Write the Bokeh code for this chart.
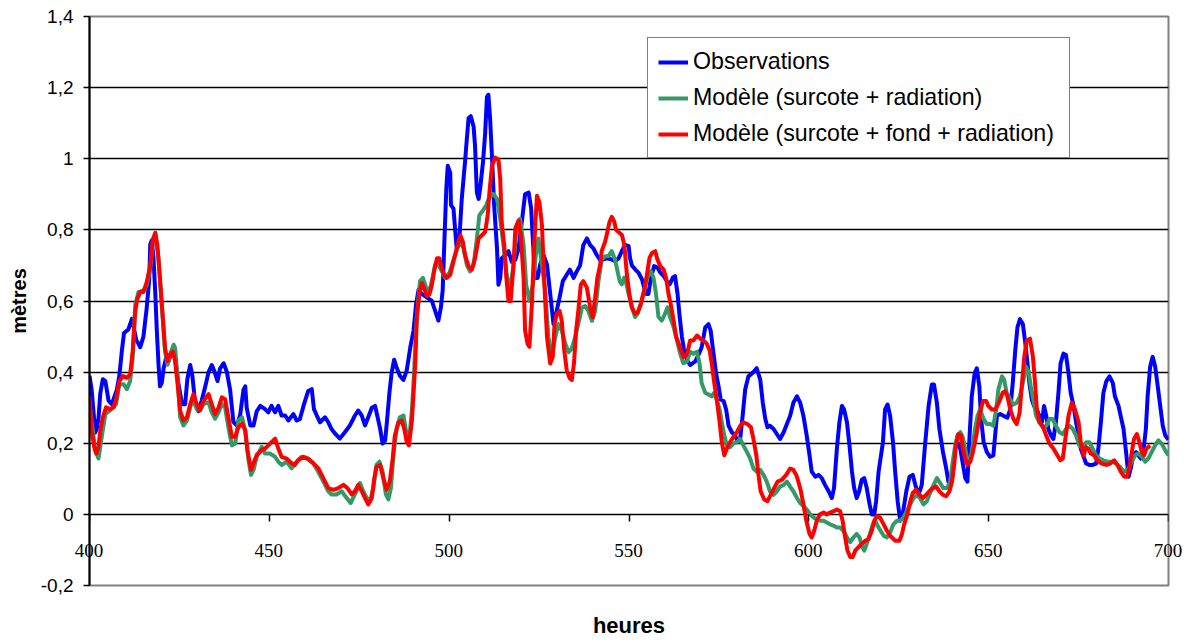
from bokeh.plotting import figure
from bokeh.models import (LinearAxis, FixedTicker, CustomJSTickFormatter, Legend, LegendItem,
                          HTMLLabelSet, ColumnDataSource)
from bokeh.embed import file_html
from bokeh.resources import INLINE

# ---------------- data ----------------
obs_h = [400, 400.6, 401.6, 402, 402.5, 403, 403.7, 404.4, 405.3, 406.2, 407.6, 408.3, 409, 409.6, 410.8, 411.8,
         412.4, 413, 413.6, 414.1, 415, 415.9, 416.6, 416.9, 417.3, 417.8, 418.3, 418.7, 419.2, 419.6, 420.1, 420.6,
         421.3, 422, 422.9, 423.8, 424.7, 425.7, 426.6, 427.2, 428, 428.6, 429.4, 430.3, 431.2, 432.2, 433.1, 434,
         434.8, 435.6, 436.3, 437.3, 438.2, 439.1, 440, 441, 441.9, 442.8, 443.3, 443.7, 444.7, 445.6, 446.5, 447.5,
         448.8, 449.7, 450.6, 451.6, 452.5, 453.4, 454.4, 455.3, 456.7, 457.6, 458.5, 459.5, 460.8, 461.8, 462.4,
         463.2, 464.1, 465.5, 466.4, 467.3, 468.3, 469.6, 471, 472.4, 473.8, 474.7, 475.7, 476.6, 477.5, 478.5,
         479.4, 480, 480.8, 481.5, 482.2, 482.6, 483.4, 484, 484.7, 485.4, 486.3,
         487.3, 488.2, 489.2, 490.1, 490.8, 491.5, 492.4, 493.8, 495.2, 496.1, 497, 497.7, 498.2, 498.7, 499.2,
         499.6, 500.3, 500.5, 501.2, 501.7, 502.1, 502.9, 503.5, 504.4, 504.9, 505.4, 506, 506.8, 507.2, 507.7,
         508.2, 508.6, 509.4, 510, 510.5, 510.9, 511.4, 511.9, 512.5, 513.3, 513.7, 514.2, 514.6, 515.6, 516.5,
         517.4, 518.4, 519.3, 520.2, 521.1, 522.1, 522.8, 523.5, 523.9, 524.6, 525.3, 526.2, 527.2, 528.1, 529,
         529.9, 530.7, 531.6, 532.7, 533.6, 534.6, 535.5, 536.4, 537.3, 538.3, 539.2, 540.1, 541, 541.9,
         542.9, 543.8, 545.2, 546.1, 547.1, 548, 548.9, 549.9, 550.3, 550.8, 551.7, 552.6, 553.6, 554.2, 554.8,
         555.4, 556.1, 557, 557.9, 558.7, 559.6, 560.5, 561.3, 562.2, 562.8, 563.5, 564, 564.7, 565.3, 566.1,
         567, 568.4, 569.3, 570.2, 571.2, 572.1, 572.7, 573.5, 574.2, 574.9, 575.5, 576.3, 577, 577.7, 578.6,
         579.5, 580.3, 580.9, 581.6, 582.3, 583.2, 584.6, 585.5, 586.5, 587.2, 587.9, 588.5, 589.2, 590.2, 591.1,
         592, 593, 593.9, 594.8, 595.7, 596.7, 597.6, 598.5, 599.4, 600.2, 600.8, 601.8, 602.7, 603.6, 604.5,
         605.5, 606.4, 607, 607.8, 608.5, 609.2, 609.8, 610.6, 611.3, 612, 612.6, 613.3, 614, 614.7, 615.4, 616.1,
         616.9, 617.5, 618.2, 618.7, 619.4, 620.6, 621.2, 621.9, 622.6, 623.4, 624, 624.7, 625.4, 626.1, 627.1,
         628, 628.9, 629.6, 630.5, 631.4, 632.3, 633.3, 634.2, 634.8, 635.6, 636.3, 637.3, 638.2, 638.8, 639.5,
         640, 640.7, 641.3, 642.1, 642.8, 643.5, 644.1, 644.7, 645.3, 646.1, 646.7, 647.4, 647.9, 648.6, 649.5,
         650.4, 651.3, 651.8, 652.3, 653.2, 654.1, 655.2, 656, 656.7, 657.4, 658, 658.7, 659.5, 660.1, 660.8,
         661.3, 662, 662.6, 663.4, 664.1, 664.8, 665.4, 666, 666.6, 667.3, 668, 668.7, 669.4, 670, 670.8, 671.5,
         672.2, 672.8, 673.6, 674.3, 675, 675.6, 676.4, 677.1, 678, 678.9, 679.9, 680.5, 681.2, 681.9, 682.7,
         683.6, 684.5, 685.1, 686.1, 686.7, 687.5, 688.2, 688.9, 689.5, 690.2, 691, 691.6, 692.3, 693, 693.7,
         694.2, 694.9, 695.6, 696.3, 696.9, 697.7, 698.4, 699.1, 700]
obs_v = [0.39, 0.35, 0.23, 0.24, 0.27, 0.34, 0.38, 0.375, 0.32, 0.31, 0.35, 0.39, 0.46, 0.51, 0.52, 0.55,
         0.52, 0.49, 0.48, 0.47, 0.5, 0.58, 0.66, 0.76, 0.77, 0.72, 0.62, 0.52, 0.42, 0.36, 0.37, 0.41,
         0.44, 0.43, 0.46, 0.44, 0.37, 0.31, 0.31, 0.38, 0.42, 0.39, 0.31, 0.29, 0.32, 0.36, 0.40, 0.42,
         0.40, 0.375, 0.41, 0.425, 0.40, 0.35, 0.26, 0.25, 0.28, 0.35, 0.36, 0.30, 0.25, 0.25, 0.29, 0.305,
         0.296, 0.287, 0.305, 0.287, 0.305, 0.278, 0.278, 0.264, 0.282, 0.264, 0.268, 0.305, 0.347, 0.352, 0.296,
         0.278, 0.259, 0.273, 0.259, 0.24, 0.227, 0.213, 0.231, 0.25, 0.278, 0.292, 0.278, 0.25, 0.273, 0.30,
         0.305, 0.278, 0.241, 0.199, 0.208, 0.25, 0.343, 0.398, 0.435, 0.412, 0.39,
         0.378, 0.405, 0.47, 0.517, 0.59, 0.632, 0.62, 0.61, 0.6, 0.572, 0.545, 0.582, 0.63, 0.776, 0.915,
         0.98, 0.96, 0.87, 0.86, 0.795, 0.748, 0.785, 0.887, 0.99, 1.054, 1.114, 1.12, 1.09, 1.035, 0.905,
         0.887, 0.915, 0.99, 1.07, 1.174, 1.18, 1.11, 1.007, 0.87, 0.748, 0.646, 0.665, 0.72, 0.73, 0.74,
         0.71, 0.716, 0.748, 0.822, 0.9, 0.905, 0.86, 0.73, 0.665, 0.665, 0.702, 0.73, 0.702, 0.62, 0.535,
         0.572, 0.61, 0.656, 0.674, 0.688, 0.665, 0.684, 0.7, 0.757, 0.776, 0.757, 0.748, 0.73, 0.716,
         0.717, 0.72, 0.717, 0.712, 0.72, 0.74, 0.758, 0.754, 0.72, 0.70, 0.689, 0.68, 0.661, 0.638, 0.62,
         0.62, 0.666, 0.698, 0.694, 0.68, 0.671, 0.656, 0.647, 0.666, 0.67, 0.62, 0.564, 0.5, 0.462, 0.434,
         0.42, 0.43, 0.448, 0.47, 0.526, 0.535, 0.517, 0.452, 0.397, 0.36, 0.323, 0.319, 0.295, 0.249, 0.231,
         0.222, 0.203, 0.212, 0.277, 0.351, 0.388, 0.4, 0.411, 0.378, 0.314, 0.268, 0.245, 0.249, 0.240, 0.226,
         0.212, 0.231, 0.254, 0.277, 0.314, 0.332, 0.314, 0.277, 0.222, 0.166, 0.12, 0.106, 0.111, 0.102, 0.083,
         0.065, 0.046, 0.074, 0.185, 0.259, 0.305, 0.295, 0.259, 0.194, 0.12, 0.074, 0.046, 0.065, 0.097, 0.102, 0.074,
         0.028, 0.0, 0.0, 0.037, 0.12, 0.203, 0.295, 0.309, 0.277, 0.203, 0.12, 0.037, -0.018, 0.0, 0.065,
         0.106, 0.111, 0.083, 0.055, 0.083, 0.194, 0.305, 0.365, 0.365, 0.314, 0.24, 0.175, 0.129, 0.092, 0.083,
         0.111, 0.185, 0.203, 0.185, 0.143, 0.102, 0.092, 0.222, 0.332, 0.397, 0.411, 0.36, 0.268, 0.203, 0.175,
         0.162, 0.166, 0.222, 0.277, 0.282, 0.277, 0.272, 0.295, 0.37, 0.462, 0.526, 0.549, 0.535, 0.489, 0.425,
         0.37, 0.323, 0.305, 0.295, 0.277, 0.259, 0.305, 0.277, 0.24, 0.222, 0.212, 0.259, 0.342, 0.425, 0.452, 0.448,
         0.397, 0.342, 0.305, 0.259, 0.222, 0.185, 0.162, 0.143, 0.139, 0.139, 0.143, 0.185, 0.259, 0.342, 0.374,
         0.388, 0.37, 0.332, 0.305, 0.277, 0.24, 0.175, 0.106, 0.129, 0.166, 0.175, 0.166, 0.157, 0.175, 0.24,
         0.332, 0.415, 0.443, 0.415, 0.369, 0.305, 0.249, 0.222, 0.21]

mod1_h = [400, 401.6, 402.5, 403.4, 404.4, 405.7, 407.4, 408.3, 409.5, 410.4, 411.3, 412, 412.7, 413.6, 415,
          415.9, 416.9, 417.6, 418.3, 419.2, 420.1, 421, 421.7, 422.4, 423.4, 423.8, 424.5, 425.2, 426.1, 427.1,
          428, 428.9, 429.8, 430.8, 431.7, 433.1, 434, 434.9, 435.9, 436.8, 437.7, 438.6, 439.6, 440.5, 441.4,
          442.4, 443.3, 444.2, 444.9, 445.6, 446.5, 447.9,
          448.8, 450.2, 451.6, 452.5, 453.4, 454.8, 456.2, 457.6, 459, 460.4, 462.2, 463.6, 465, 466.4, 467.3,
          468.7, 470.1, 471.5, 472.6, 473.8, 475.2, 476.1, 477.1, 478, 478.9, 479.8, 480.6, 481.5, 482.4, 483.1,
          483.8, 484.5, 485.4, 486.3, 487.3, 488.2, 488.9, 489.6, 490,
          491, 491.9, 492.7, 493.6, 494.5, 495.2, 496.1, 497, 498, 498.9, 500.1, 501.2, 502.3, 503.1, 504, 504.9,
          505.8, 506.8, 507.7, 508.4, 509.4, 510.3, 511.2, 512.3, 513.3, 514.2, 515.1, 516, 516.9, 517.9, 518.8,
          519.7, 520.7, 521.4, 522.3, 523.3, 524.2, 524.8, 525.8, 526.7, 527.6, 528.5, 529.5, 530.4, 531.3, 532.3,
          533.2, 534.1, 535, 535.9, 536.9, 537.8, 538.7, 539.7, 540.6, 541.5,
          542.4, 543.4, 544.3, 545.2, 546.1, 546.8, 547.4, 548, 548.7, 549.4, 550.1, 550.8, 551.7, 552.4, 553.3,
          554.2, 555.1, 556.1, 556.8, 557.5, 558.2, 559.1, 560, 560.7, 561.4, 562.4, 563.3, 564.2, 565.1, 566.1,
          567, 567.9, 568.9, 569.6, 570.2, 571.2, 572.1, 573, 573.7, 574.4, 575.2, 575.8, 576.5, 577.2, 578.1,
          579, 580, 580.9, 581.8, 582.8, 583.7, 584.6, 585.5, 586.5, 587.4, 588.3, 589.2, 590.2, 591.1, 592, 593,
          593.9, 594.8, 595.7, 596.7, 597.6, 598.5, 599.4, 600.4, 601.3, 602.2, 603.1, 604.1, 605, 605.9, 606.9,
          607.8, 608.7, 609.6, 610.6, 611.5, 612.4, 613.3, 614.1, 614.7, 615.4, 616.1, 617, 617.8, 618.4, 619.4,
          620.8, 621.7, 622.6, 623.5, 624.5, 625.4, 626.3, 627.2, 628.2, 629.1, 630, 630.9, 631.9, 632.8, 633.7,
          634.7, 635.6, 636.5, 637.4, 638.4, 639.3, 640, 640.7, 641.3, 642.1, 642.8, 643.5, 644.1, 644.9, 645.6,
          646.2, 646.9, 647.6, 648.6, 649.5, 650.4, 651.3, 652.1, 652.7, 653.7, 654.3,
          655, 656, 656.9, 657.8, 658.7, 659.7, 660.4, 661.1, 661.7, 662.4, 663.2, 664.1, 665, 666, 666.9, 667.8,
          668.7, 669.7, 670.6, 671.5, 672.5, 673.4, 674.3, 675.2, 676.2, 677.1, 678, 678.9, 679.9, 680.8, 681.9,
          683, 684.2, 685.4, 686.5, 687.7, 688.9, 689.8, 690.7, 691.6, 692.6, 693.5, 694.4, 695.3, 696.3, 697.2,
          698.1, 699.1, 700]
mod1_v = [0.31, 0.18, 0.157, 0.218, 0.282, 0.292, 0.31, 0.366, 0.366, 0.352, 0.375, 0.44, 0.588, 0.625, 0.63,
          0.644, 0.69, 0.764, 0.787, 0.718, 0.588, 0.458, 0.421, 0.449, 0.477, 0.468, 0.384, 0.273, 0.25, 0.264,
          0.301, 0.324, 0.296, 0.292, 0.31, 0.315, 0.287, 0.269, 0.287, 0.31, 0.301, 0.245, 0.194, 0.199, 0.264,
          0.273, 0.236, 0.153, 0.111, 0.125, 0.162, 0.19,
          0.171, 0.171, 0.162, 0.148, 0.139, 0.148, 0.13, 0.148, 0.162, 0.157, 0.144, 0.12, 0.093, 0.065, 0.056,
          0.056, 0.065, 0.046, 0.032, 0.056, 0.088, 0.065, 0.046, 0.037, 0.074, 0.139, 0.148, 0.12, 0.056, 0.042,
          0.074, 0.167, 0.241, 0.273, 0.278, 0.222, 0.213, 0.287, 0.352,
          0.554, 0.656, 0.665, 0.637, 0.628, 0.656, 0.702, 0.702, 0.683, 0.665, 0.679, 0.716, 0.748, 0.767, 0.748,
          0.702, 0.683, 0.702, 0.776, 0.841, 0.855, 0.869, 0.892, 0.901, 0.887, 0.831, 0.757, 0.674, 0.628, 0.702,
          0.813, 0.831, 0.757, 0.646, 0.6, 0.646, 0.739, 0.776, 0.702, 0.628, 0.498, 0.443, 0.498, 0.535, 0.517,
          0.48, 0.456, 0.466, 0.498, 0.535, 0.581, 0.586, 0.572, 0.544, 0.572, 0.656,
          0.717, 0.726, 0.726, 0.74, 0.717, 0.684, 0.656, 0.647, 0.666, 0.643, 0.61, 0.582, 0.555, 0.564, 0.592,
          0.629, 0.666, 0.684, 0.666, 0.62, 0.555, 0.545, 0.564, 0.582, 0.555, 0.527, 0.49, 0.453, 0.425, 0.43,
          0.457, 0.452, 0.457, 0.425, 0.369, 0.342, 0.337, 0.332, 0.342, 0.323, 0.295, 0.259, 0.222, 0.194, 0.189,
          0.199, 0.203, 0.212, 0.194, 0.175, 0.157, 0.129, 0.12, 0.125, 0.111, 0.092, 0.065, 0.055, 0.065, 0.078,
          0.083, 0.092, 0.078, 0.065, 0.046, 0.032, 0.023, 0.014, 0.0, -0.009, -0.014, -0.018, -0.018, -0.023,
          -0.028, -0.032, -0.037, -0.037, -0.046, -0.065, -0.078, -0.065, -0.055, -0.065, -0.088, -0.102, -0.083,
          -0.055, -0.028, -0.018, -0.037,
          -0.06, -0.065, -0.051, -0.028, -0.018, -0.018, -0.009, 0.009, 0.028, 0.046, 0.055, 0.046, 0.028, 0.037,
          0.06, 0.083, 0.102, 0.088, 0.074, 0.074, 0.092, 0.148, 0.194, 0.222, 0.231, 0.217, 0.185, 0.148, 0.157,
          0.194, 0.24, 0.277, 0.295, 0.268, 0.254, 0.254, 0.249, 0.295, 0.351, 0.388, 0.379,
          0.342, 0.323, 0.309, 0.314, 0.332, 0.379, 0.415, 0.402, 0.36, 0.323, 0.277, 0.259, 0.245, 0.249, 0.268,
          0.268, 0.249, 0.231, 0.226, 0.24, 0.249, 0.24, 0.222, 0.194, 0.185, 0.203, 0.203, 0.185, 0.166, 0.157,
          0.152, 0.148, 0.148, 0.143, 0.134, 0.12, 0.129, 0.148, 0.166, 0.171, 0.162, 0.148, 0.157, 0.175, 0.194,
          0.208, 0.199, 0.18, 0.166]

mod2_h = [400, 400.6, 401.3, 401.9, 402.5, 403, 403.7, 404.6, 405.7, 406.7, 407.4, 408.3, 409.3, 410.4, 411.3,
          412, 412.7, 413.3, 414.1, 415, 415.9, 416.9, 417.6, 418.3, 418.9, 419.6, 420.4, 421, 421.7, 422.4,
          423.2, 423.8, 424.5, 425.2, 426.1, 427.1, 428, 428.9, 429.8, 430.6, 431.7, 433.1, 434, 434.9, 435.9,
          436.8, 437.7, 438.6, 439.6, 440.5, 441.4, 442.4, 443.3, 443.9, 444.9, 445.6, 446.5, 447.9,
          448.8, 450.2, 451.6, 452.5, 453.4, 454.8, 456.2, 457.1, 458.1, 459.5, 460.8, 462.2, 463.6, 465, 466.4,
          467.8, 469.2, 470.6, 471.7, 472.9, 473.8, 474.7, 475.7, 476.6, 477.5, 478.5, 479.2, 479.8, 480.8, 481.7,
          482.6, 483.5, 484.3, 484.9, 485.9, 486.8, 487.5, 488.2, 488.8, 489.6,
          490.1, 490.6, 491, 491.8, 492.4, 493, 493.8, 494.5, 495.2, 495.8, 496.6, 497.3, 497.9, 498.6, 499.3,
          500.3, 501.2, 502.1, 503.1, 503.8, 504.4, 505.4, 506.3, 507.2, 508.2, 509.1, 510, 510.7, 511.2, 511.9,
          512.8, 513.7, 514.2, 514.6, 515.3, 515.9, 516.5, 517.1, 517.9, 518.4, 519.3, 519.9, 520.7, 521.1, 521.8,
          522.3, 523, 523.6, 524.4, 525.1, 525.8, 526.4, 527.2, 528.1, 528.8, 529.3, 529.9, 530.7, 531.3, 532,
          532.7, 533.5, 534.1, 534.7, 535.3, 535.9, 536.6, 537.3, 538.3, 539.2, 539.9, 540.6, 541.2, 542,
          542.4, 543.4, 544, 544.6, 545.2, 545.9, 546.4, 547.4, 548, 548.7, 549.4, 550.1, 550.8, 551.7, 552.4,
          553.3, 554.2, 555, 555.7, 556.4, 557.3, 557.9, 558.7, 559.6, 560.3, 561, 561.6, 562.4, 563.1, 563.8,
          564.4, 565.1, 565.9, 566.5,
          567, 567.9, 568.9, 569.8, 570.7, 571.6, 572.4, 573, 573.7, 574.4, 575.2, 575.8, 576.5, 577.2, 578.1,
          579, 580, 580.9, 581.8, 582.9, 583.9, 584.6, 585.4, 586, 586.6, 587.6, 588.5, 589.4, 590.4, 591.3,
          592.5, 593.7, 594.8, 595.7, 596.5, 597.1, 597.8, 598.5, 599.3, 600.2, 600.8, 601.5, 602.2, 603.1, 604.1,
          605, 605.9, 606.9, 607.8, 608.7, 609.4, 610.1, 610.7, 611.5, 612.2, 612.9, 613.8, 614.7, 615.7, 616.6,
          617.5, 618.2, 618.9, 619.8,
          620.8, 621.7, 622.6, 624, 625.2, 625.9, 626.5, 627.4, 628.2, 628.9, 629.8, 630.8, 631.7, 632.6, 633.5,
          634.5, 635.4, 636.3, 637.3, 638.2, 639.1, 639.8, 640.4, 640.9, 641.6, 642.3, 642.8, 643.5, 644.1, 644.9,
          645.6, 646.2, 646.9, 647.6, 648.4, 649.3, 649.9, 650.9, 651.8, 652.4, 653.2, 653.9, 654.6, 655.2,
          656, 656.9, 657.8, 658.6, 659.2, 659.9, 660.6, 661.5, 662.3, 662.9, 663.4, 664.1, 665, 666, 666.9, 668,
          669.1, 669.9, 670.6, 671.2, 672.2, 673.1, 674, 675, 675.6, 676.4, 677.1, 677.7, 678.4, 679.3, 680.2,
          681.4, 682.7, 683.8, 684.9, 685.8, 686.7, 687.7, 688.4, 689.1, 689.8, 690.4, 691.2, 691.9, 692.6, 693.2,
          693.9, 694.9]
mod2_v = [0.329, 0.236, 0.19, 0.171, 0.19, 0.236, 0.273, 0.301, 0.296, 0.301, 0.324, 0.375, 0.389, 0.384, 0.394,
          0.458, 0.569, 0.606, 0.625, 0.625, 0.653, 0.699, 0.773, 0.792, 0.755, 0.662, 0.551, 0.468, 0.431, 0.449,
          0.458, 0.431, 0.366, 0.292, 0.264, 0.273, 0.31, 0.338, 0.31, 0.292, 0.319, 0.338, 0.31, 0.282, 0.301,
          0.329, 0.324, 0.273, 0.218, 0.218, 0.245, 0.255, 0.236, 0.181, 0.125, 0.144, 0.167, 0.181,
          0.185, 0.199, 0.213, 0.185, 0.162, 0.157, 0.144, 0.139, 0.153, 0.162, 0.157, 0.144, 0.13, 0.102, 0.074,
          0.069, 0.074, 0.083, 0.074, 0.056, 0.065, 0.083, 0.065, 0.046, 0.028, 0.046, 0.102, 0.134, 0.139, 0.102,
          0.069, 0.093, 0.157, 0.222, 0.259, 0.264, 0.241, 0.204, 0.194, 0.259,
          0.34, 0.43, 0.554, 0.628, 0.65, 0.637, 0.614, 0.618, 0.646, 0.683, 0.72, 0.72, 0.693, 0.674, 0.665,
          0.674, 0.711, 0.748, 0.785, 0.767, 0.73, 0.697, 0.688, 0.72, 0.776, 0.785, 0.794, 0.84, 0.906, 0.98,
          1.003, 0.998, 0.943, 0.822, 0.757, 0.665, 0.6, 0.6, 0.702, 0.804, 0.826, 0.785, 0.665, 0.517, 0.48,
          0.471, 0.591, 0.748, 0.896, 0.878, 0.813, 0.665, 0.498, 0.424, 0.443, 0.535, 0.563, 0.572, 0.545, 0.461,
          0.405, 0.383, 0.378, 0.424, 0.517, 0.572, 0.646, 0.656, 0.637, 0.581, 0.554, 0.61, 0.665, 0.702,
          0.74, 0.768, 0.795, 0.823, 0.837, 0.823, 0.8, 0.791, 0.786, 0.758, 0.675, 0.62, 0.582, 0.564, 0.568,
          0.592, 0.629, 0.675, 0.721, 0.735, 0.74, 0.717, 0.698, 0.689, 0.666, 0.619, 0.591, 0.545, 0.5, 0.481,
          0.462, 0.443, 0.448, 0.467,
          0.489, 0.489, 0.503, 0.494, 0.489, 0.48, 0.462, 0.425, 0.37, 0.323, 0.259, 0.203, 0.166, 0.185, 0.203,
          0.217, 0.231, 0.249, 0.259, 0.254, 0.245, 0.212, 0.166, 0.111, 0.065, 0.042, 0.037, 0.055, 0.074, 0.092,
          0.097, 0.111, 0.129, 0.125, 0.111, 0.092, 0.065, 0.028, -0.018, -0.055, -0.065, -0.046, -0.018, 0.0, 0.005,
          0.0, 0.005, 0.009, 0.014, 0.009, -0.018, -0.065, -0.1, -0.12, -0.12, -0.102, -0.092, -0.083, -0.074, -0.069,
          -0.046, -0.018, -0.005, -0.009,
          -0.028, -0.046, -0.06, -0.074, -0.074, -0.055, -0.028, 0.0, 0.037, 0.06, 0.069, 0.055, 0.046, 0.055, 0.065,
          0.074, 0.078, 0.065, 0.055, 0.051, 0.065, 0.092, 0.139, 0.194, 0.226, 0.222, 0.185, 0.157, 0.139, 0.148,
          0.175, 0.203, 0.24, 0.286, 0.319, 0.319, 0.305, 0.295, 0.295, 0.305, 0.323, 0.342, 0.346, 0.332,
          0.295, 0.268, 0.254, 0.286, 0.36, 0.443, 0.489, 0.494, 0.443, 0.369, 0.295, 0.259, 0.249, 0.222, 0.199, 0.185,
          0.166, 0.152, 0.157, 0.203, 0.277, 0.314, 0.295, 0.259, 0.203, 0.166, 0.189, 0.185, 0.171, 0.166, 0.152,
          0.143, 0.139, 0.143, 0.152, 0.139, 0.12, 0.106, 0.106, 0.129, 0.175, 0.212, 0.226, 0.203, 0.175, 0.166,
          0.185, 0.194]

series_labels = ["Observations", "Modèle (surcote + radiation)", "Modèle (surcote + fond + radiation)"]
series_colors = ["#0000FF", "#339966", "#FF0000"]
x_ticks = [400, 450, 500, 550, 600, 650, 700]
x_tick_labels = ["400", "450", "500", "550", "600", "650", "700"]
y_ticks = [-0.2, 0, 0.2, 0.4, 0.6, 0.8, 1.0, 1.2, 1.4]
grid_ticks = [0, 0.2, 0.4, 0.6, 0.8, 1.0, 1.2]

FONT = "Liberation Sans"

p = figure(width=1182, height=640, output_backend="svg", toolbar_location=None,
           x_range=(400, 700), y_range=(-0.2, 1.4),
           min_border_left=89, min_border_right=14, min_border_top=16, min_border_bottom=48)
p.background_fill_color = "white"
p.border_fill_color = "white"
p.outline_line_color = "#808080"
p.outline_line_width = 2

# x axis crossing at y = 0 (tick marks only; labels placed through the data scales below)
xa = p.xaxis[0]
xa.fixed_location = 0
xa.ticker = FixedTicker(ticks=x_ticks)
xa.formatter = CustomJSTickFormatter(code="return '';")
xa.axis_line_color = None
xa.major_tick_in = 0
xa.major_tick_out = 7
xa.major_tick_line_color = "black"
xa.major_tick_line_width = 1.5
xa.minor_tick_line_color = None
xa.major_label_text_font_size = "1px"

# separate axis only carrying the "heures" title
xt = LinearAxis(ticker=FixedTicker(ticks=[]), axis_label="heures", axis_line_color=None,
                major_tick_line_color=None, minor_tick_line_color=None,
                major_tick_out=0, major_tick_in=0)
xt.axis_label_text_font = FONT
xt.axis_label_text_font_style = "bold"
xt.axis_label_text_font_size = "22px"
xt.axis_label_text_color = "black"
xt.axis_label_standoff = 27
p.add_layout(xt, "below")

# tick labels of the x axis, positioned at y = 0 through the data scales
tick_src = ColumnDataSource(data=dict(x=x_ticks, y=[0] * len(x_ticks), t=x_tick_labels))
tick_labels = HTMLLabelSet(x="x", y="y", text="t", source=tick_src, y_offset=-26,
                           x_units="data", y_units="data",
                           text_align="center", text_baseline="top",
                           text_font=FONT, text_font_size="19px", text_color="black")
p.add_layout(tick_labels)

ya = p.yaxis[0]
ya.ticker = FixedTicker(ticks=y_ticks)
ya.formatter = CustomJSTickFormatter(code="return tick.toFixed(1).replace('.', ',').replace(',0', '');")
ya.axis_line_color = "black"
ya.axis_line_width = 2
ya.major_tick_in = 0
ya.major_tick_out = 6
ya.major_tick_line_color = "black"
ya.major_tick_line_width = 1.5
ya.minor_tick_line_color = None
ya.major_label_standoff = 10
ya.major_label_text_font = FONT
ya.major_label_text_font_size = "19px"
ya.major_label_text_color = "black"
ya.axis_label = "mètres"
ya.axis_label_text_font = FONT
ya.axis_label_text_font_style = "bold"
ya.axis_label_text_font_size = "20px"
ya.axis_label_text_color = "black"
ya.axis_label_standoff = 8

p.xgrid.grid_line_color = None
p.ygrid.ticker = FixedTicker(ticks=grid_ticks)
p.ygrid.grid_line_color = "black"
p.ygrid.grid_line_width = 1.6

renderers = []
for hs, vs, col in zip([obs_h, mod1_h, mod2_h], [obs_v, mod1_v, mod2_v], series_colors):
    r = p.line(hs, vs, line_color=col, line_width=4, line_join="round")
    renderers.append(r)

legend = Legend(items=[LegendItem(label=lab, renderers=[r]) for lab, r in zip(series_labels, renderers)],
                location=(558, 427))
legend.label_text_font = FONT
legend.label_text_font_size = "23.2px"
legend.label_text_color = "black"
legend.glyph_width = 30
legend.glyph_height = 22
legend.label_standoff = 5
legend.label_width = 366
legend.padding = 10
legend.spacing = 9
legend.margin = 0
legend.border_line_color = "black"
legend.border_line_width = 1.5
legend.background_fill_alpha = 1
p.add_layout(legend, "center")

open("out.html", "w").write(file_html(p, INLINE))
